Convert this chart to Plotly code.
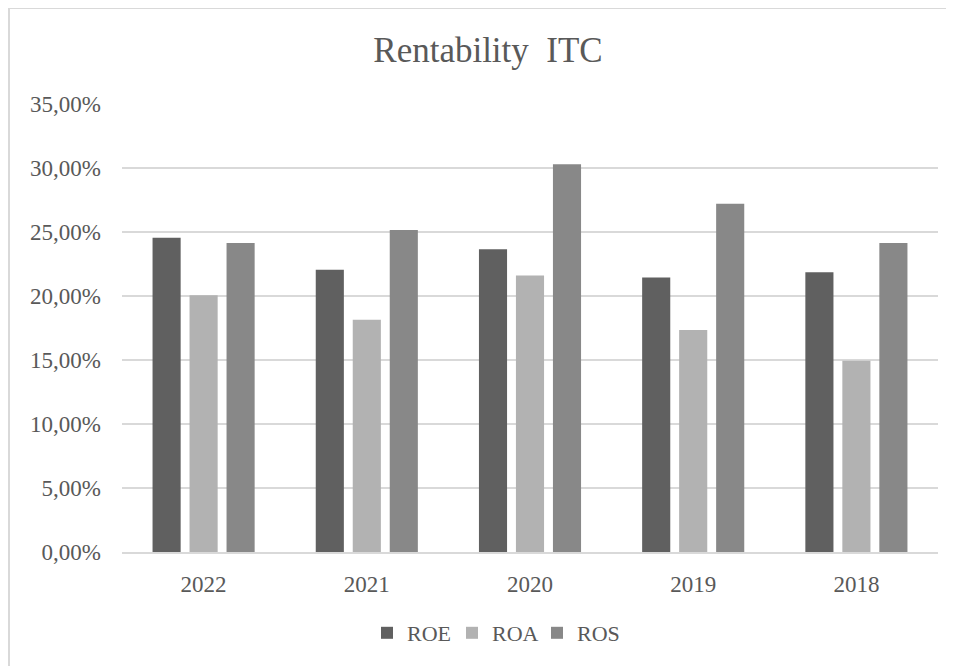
import plotly.graph_objects as go

years = ["2022", "2021", "2020", "2019", "2018"]
roe = [0.2455, 0.2205, 0.2365, 0.2145, 0.2185]
roa = [0.2005, 0.1815, 0.2160, 0.1735, 0.1495]
ros = [0.2415, 0.2515, 0.3030, 0.2720, 0.2415]
y_ticks = [0, 0.05, 0.10, 0.15, 0.20, 0.25, 0.30, 0.35]

FONT = "Liberation Serif, Times New Roman, serif"
GREY_TXT = "#595959"

fig = go.Figure()
for name, vals, col in [("ROE", roe, "#606060"), ("ROA", roa, "#b2b2b2"), ("ROS", ros, "#888888")]:
    fig.add_trace(go.Bar(x=years, y=vals, name=name, marker=dict(color=col, line=dict(width=0))))

# page places the figure at an 8px body offset
OFF = 8
W, H = 954 - OFF, 666 - OFF
L, R, T, B = 122 - OFF, 16, 104 - OFF, 114
pw, ph = W - L - R, H - T - B

def px(x):
    return (x - OFF - L) / pw

def py(y):
    return (H - B - (y - OFF)) / ph

fig.update_layout(
    width=W, height=H,
    margin=dict(l=L, r=R, t=T, b=B),
    paper_bgcolor="white", plot_bgcolor="white",
    separators=", ",
    barmode="group", bargap=0.32, bargroupgap=0.24,
    font=dict(family=FONT, color=GREY_TXT, size=23),
    title=dict(text="Rentability  ITC", x=px(488), xanchor="center", xref="paper",
               y=1 - (50 - OFF) / H, yanchor="middle",
               font=dict(family=FONT, size=35, color=GREY_TXT)),
    legend=dict(orientation="h", x=px(367), xanchor="left", xref="paper",
                y=py(633), yanchor="middle", yref="paper",
                font=dict(family=FONT, size=22, color=GREY_TXT),
                itemwidth=30, entrywidth=40, traceorder="normal"),
    yaxis=dict(range=[0, 0.35], tickvals=y_ticks, tickformat=".2%",
               showgrid=True, gridcolor="#d9d9d9", gridwidth=2,
               zeroline=False, showline=False, ticks="", ticklabelstandoff=20,
               tickfont=dict(family=FONT, size=23, color=GREY_TXT)),
    xaxis=dict(showgrid=False, showline=True, linecolor="#d9d9d9", linewidth=2,
               ticks="", tickfont=dict(family=FONT, size=23, color=GREY_TXT),
               ticklabelstandoff=10),
    shapes=[dict(type="rect", xref="paper", yref="paper",
                 x0=px(9), x1=px(952), y0=py(670), y1=py(8),
                 line=dict(color="#d9d9d9", width=2), fillcolor="rgba(0,0,0,0)",
                 layer="below")],
)

fig.write_html("out.html")
